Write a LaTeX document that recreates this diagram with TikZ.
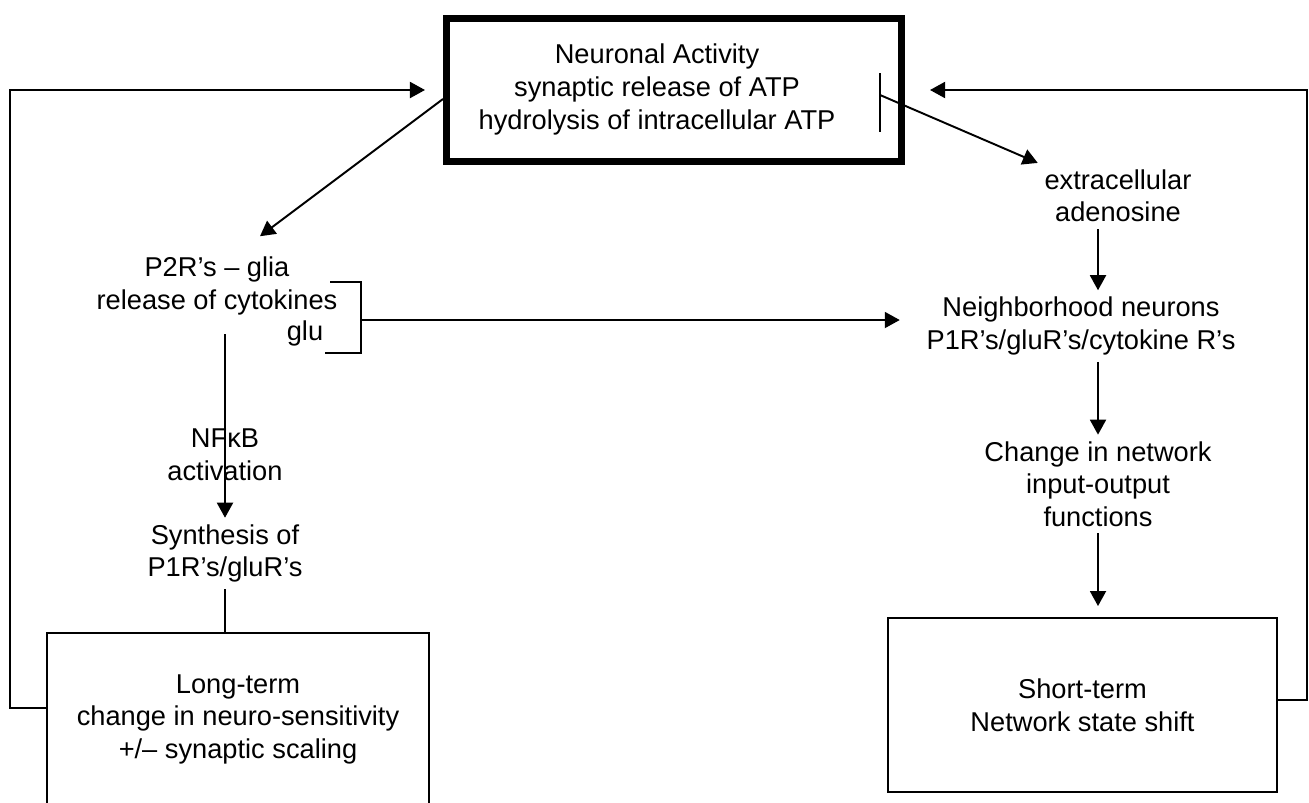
\documentclass[tikz,border=0pt]{standalone}
\usepackage{fontspec}
\setmainfont{Liberation Sans}
\usetikzlibrary{arrows.meta, positioning}

\begin{document}
\begin{tikzpicture}[%
    >={Triangle[length=0.3cm,width=0.32cm]},
    line width=1.1pt,
    on grid,
    font=\fontsize{15.5}{18.5}\selectfont,
    every node/.style={align=center},
    box/.style={draw, minimum width=7.78cm, minimum height=3.48cm},
    thickbox/.style={draw, line width=4pt, minimum width=9.1cm, minimum height=2.86cm}
  ]
  \useasboundingbox (0,0) rectangle (26.18,-16.04);
  \clip (0,0) rectangle (26.18,-16.04);

  \node[thickbox] at (13.48,-1.80) (na) {\begin{tabular}{@{}c@{\hspace{0.68cm}}}Neuronal Activity\\ synaptic release of ATP\\ hydrolysis of intracellular ATP\end{tabular}};

  % left branch
  \node at (4.34,-5.72) (p2r) {P2R’s – glia\\ release of cytokines};
  \node at (6.10,-6.66) (glu) {glu};
  \node at (4.50,-9.10) (nfkb) {NFκB\\ activation};
  \node[below=1.97 of nfkb] (syn) {Synthesis of\\ P1R’s/gluR’s};
  \node[box, minimum width=7.64cm, minimum height=3.44cm] at (4.76,-14.38) (lt) {Long-term\\ change in neuro-sensitivity\\ +/– synaptic scaling};

  % right branch
  \node at (22.36,-3.92) (ext) {extracellular\\ adenosine};
  \node[below left=2.6 and 0.74 of ext] (nb) {Neighborhood neurons\\ P1R’s/gluR’s/cytokine R’s};
  \node[below right=3.16 and 0.34 of nb] (cn) {Change in network\\ input-output\\ functions};
  \node[box] at (21.65,-14.10) (st) {Short-term\\ Network state shift};

  % feedback loops
  \draw[->, shorten >=0.36cm] ([yshift=0.22cm]lt.west) -- ++(-0.72,0) |- (na.west);
  \draw[->, shorten >=0.5cm] ([yshift=0.1cm]st.east) -- ++(0.58,0) |- (na.east);

  % outputs of neuronal activity
  \draw[->] ([yshift=-0.18cm]na.west) -- ([xshift=0.86cm,yshift=0.28cm]p2r.north);
  \coordinate (bartop) at ([xshift=-0.5cm,yshift=0.34cm]na.east);
  \coordinate (barbot) at ([xshift=-0.5cm,yshift=-0.84cm]na.east);
  \coordinate (barmid) at ([xshift=-0.5cm,yshift=-0.1cm]na.east);
  \draw (bartop) -- (barbot);
  \draw[->] (barmid) -- (ext.north west);

  % glia bracket
  \draw ([yshift=1.02cm]glu.east) -- ++(0.62,0) coordinate (brk) -- ++(0,-1.42) -- ++(-0.72,0);
  \coordinate (brm) at ([yshift=-0.76cm]brk);
  \draw[->, shorten >=0.4cm] (brm) -- (brm -| nb.west);

  % chains
  \draw[->, shorten <=0.25cm] (p2r.south -| syn) -- (syn.north);
  \draw (syn.south) -- (syn.south |- lt.north);
  \draw[->] (ext.south -| cn) -- (nb.north -| cn);
  \draw[->] (nb.south -| cn) -- (cn.north);
  \draw[->, shorten >=0.22cm] (cn.south) -- (cn.south |- st.north);
\end{tikzpicture}
\end{document}
